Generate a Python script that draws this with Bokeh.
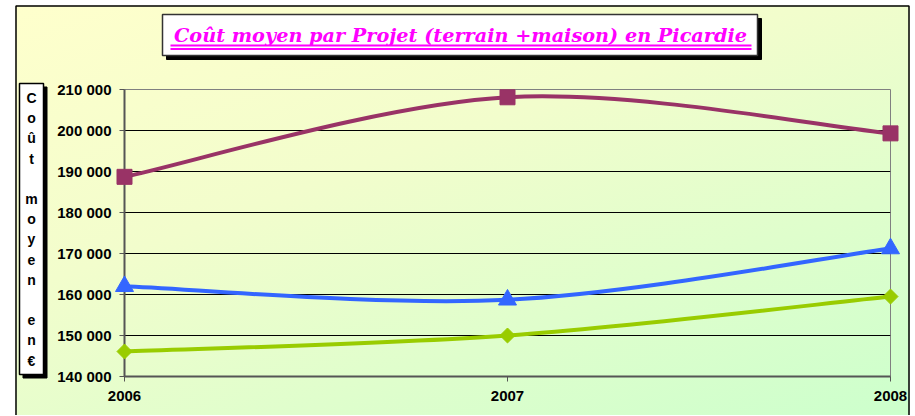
import math
from bokeh.plotting import figure
from bokeh.models import FixedTicker
from bokeh.core.properties import value
from bokeh.embed import file_html
from bokeh.resources import INLINE

years = [2006, 2007, 2008]
serie_violet = [188700, 208100, 199300]
serie_bleu = [162000, 158700, 171200]
serie_vert = [146100, 150000, 159500]

y_ticks = [140000, 150000, 160000, 170000, 180000, 190000, 200000, 210000]
y_tick_labels = ["140 000", "150 000", "160 000", "170 000", "180 000", "190 000", "200 000", "210 000"]
x_ticks = [2006, 2007, 2008]
x_tick_labels = ["2006", "2007", "2008"]

title_text = "Coût moyen par Projet (terrain +maison) en Picardie"
ylabel_lines = ["C", "o", "û", "t", "", "m", "o", "y", "e", "n", "", "e", "n", "€"]

# ---- layout (page pixels) ----
CAN_X, CAN_Y = 0, 1
W, H = 912, 415
FR_L, FR_R, FR_T, FR_B = 124, 890, 90, 377
X0, X1 = 2006, 2008
Y0, Y1 = 140000, 210000


def dx(px):
    return X0 + (px - FR_L) * (X1 - X0) / (FR_R - FR_L)


def dy(py):
    return Y0 + (FR_B - py) * (Y1 - Y0) / (FR_B - FR_T)


p = figure(width=W, height=H, output_backend="svg", toolbar_location=None,
           x_range=(X0, X1), y_range=(Y0, Y1),
           min_border_left=FR_L - CAN_X, min_border_right=CAN_X + W - FR_R,
           min_border_top=FR_T - CAN_Y, min_border_bottom=CAN_Y + H - FR_B)
p.styles = {"background": "linear-gradient(160deg, #ffffcc 0%, #f2fdcc 40%, #ccffcc 100%)"}
p.border_fill_color = None
p.background_fill_color = None
p.outline_line_color = "#808080"
p.outline_line_width = 1

for ax in (p.xaxis[0], p.yaxis[0]):
    ax.axis_line_color = "#555555"
    ax.axis_line_width = 2
    ax.major_tick_line_color = "#555555"
    ax.major_tick_out = 5
    ax.major_tick_in = 0
    ax.minor_tick_line_color = None
    ax.major_label_text_font = "Liberation Sans"
    ax.major_label_text_font_style = "bold"
    ax.major_label_text_font_size = "15px"
    ax.major_label_text_color = "black"

p.yaxis.ticker = FixedTicker(ticks=y_ticks)
p.yaxis.major_label_overrides = dict(zip(y_ticks, y_tick_labels))
p.yaxis.major_label_standoff = 8
p.xaxis.ticker = FixedTicker(ticks=x_ticks)
p.xaxis.major_label_overrides = dict(zip(x_ticks, x_tick_labels))
p.xaxis.major_label_standoff = 9

p.xgrid.grid_line_color = None
p.ygrid.ticker = FixedTicker(ticks=y_ticks)
p.ygrid.grid_line_color = "black"
p.ygrid.grid_line_width = 1

# ---- outer chart border, white page outside it ----
p.quad(left=[dx(-20), dx(-20), dx(909)], right=[dx(15), dx(930), dx(930)],
       top=[dy(-20), dy(-20), dy(-20)], bottom=[dy(440), dy(6), dy(440)],
       fill_color="white", line_color=None, level="overlay")
p.quad(left=[dx(15.5)], right=[dx(908.5)], top=[dy(6.5)], bottom=[dy(440)],
       fill_color=None, line_color="black", line_width=1.5, level="overlay")


def smooth(xs, ys):
    # Excel-like smoothed line: cubic Bezier between successive points
    n = len(xs)
    seg = dict(x0=[], y0=[], x1=[], y1=[], cx0=[], cy0=[], cx1=[], cy1=[])
    for i in range(n - 1):
        xa, ya = xs[max(i - 1, 0)], ys[max(i - 1, 0)]
        xb, yb = xs[i], ys[i]
        xc, yc = xs[i + 1], ys[i + 1]
        xd, yd = xs[min(i + 2, n - 1)], ys[min(i + 2, n - 1)]
        seg["x0"].append(xb); seg["y0"].append(yb)
        seg["x1"].append(xc); seg["y1"].append(yc)
        seg["cx0"].append(xb + (xc - xa) / 6); seg["cy0"].append(yb + (yc - ya) / 6)
        seg["cx1"].append(xc - (xd - xb) / 6); seg["cy1"].append(yc - (yd - yb) / 6)
    return seg


series = [
    (serie_violet, "#993366", "square", 15, 0),
    (serie_bleu, "#3366ff", "triangle", 18, 0),
    (serie_vert, "#99cc00", "square", 10.6, math.pi / 4),
]
for vals, col, mk, sz, ang in series:
    s = smooth(years, vals)
    p.bezier(x0=s["x0"], y0=s["y0"], x1=s["x1"], y1=s["y1"], cx0=s["cx0"], cy0=s["cy0"],
             cx1=s["cx1"], cy1=s["cy1"], line_color=col, line_width=4, level="overlay")
    p.scatter(years, vals, marker=mk, size=sz, angle=ang, fill_color=col, line_color=col, level="overlay")

# ---- title box with shadow and double underline ----
p.quad(left=[dx(166)], right=[dx(761)], top=[dy(19)], bottom=[dy(60)],
       fill_color="black", line_color="black", level="overlay")
p.quad(left=[dx(162)], right=[dx(757)], top=[dy(15)], bottom=[dy(56)],
       fill_color="white", line_color="#333333", line_width=1.5, level="overlay")
p.text(x=[dx(460)], y=[dy(36)], text=[title_text], text_font=value("DejaVu Serif"),
       text_font_style="bold italic", text_font_size="19.25px", text_color="#ff00ff",
       text_align="center", text_baseline="middle", level="overlay")
p.quad(left=[dx(170)] * 2, right=[dx(751)] * 2, top=[dy(45), dy(48.5)], bottom=[dy(47), dy(50.5)],
       fill_color="#ff00ff", line_color=None, level="overlay")

# ---- y axis label: box with shadow, stacked letters ----
p.quad(left=[dx(22.5)], right=[dx(46.5)], top=[dy(87.5)], bottom=[dy(378.5)],
       fill_color="black", line_color="black", level="overlay")
p.quad(left=[dx(19)], right=[dx(43)], top=[dy(84)], bottom=[dy(375)],
       fill_color="white", line_color="black", line_width=1.5, level="overlay")
letters, ly = [], []
for i, ch in enumerate(ylabel_lines):
    if ch:
        letters.append(ch)
        ly.append(dy(98.5 + i * 20.2))
p.text(x=[dx(31)] * len(letters), y=ly, text=letters, text_font=value("Liberation Sans"),
       text_font_style="bold", text_font_size="14px", text_color="black",
       text_align="center", text_baseline="middle", level="overlay")

open("out.html", "w").write(file_html(p, INLINE))
